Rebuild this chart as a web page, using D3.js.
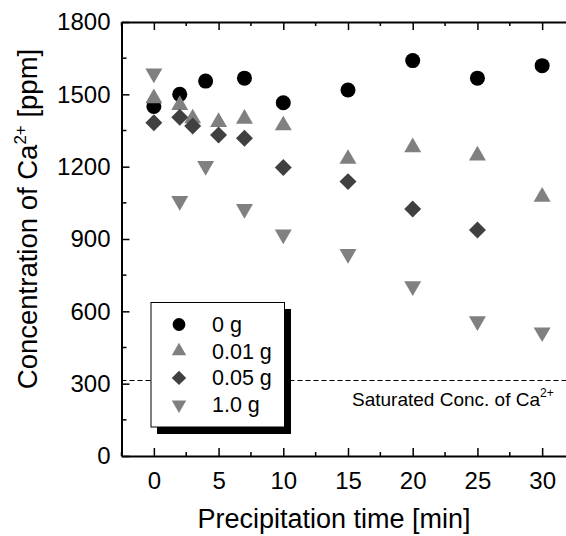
<!DOCTYPE html>
<html><head><meta charset="utf-8">
<script src="https://cdn.jsdelivr.net/npm/d3@7/dist/d3.min.js"></script>
<style>
html,body{margin:0;padding:0;background:#fff;}
text{font-family:"Liberation Sans",Arial,sans-serif;fill:#000;}
</style></head>
<body><svg id="c" width="566" height="536"></svg>
<script>
const seriesNames = ["0 g", "0.01 g", "0.05 g", "1.0 g"];
const seriesColors = ["#000000", "#808080", "#404040", "#808080"];
const seriesShapes = ["circle", "triUp", "diamond", "triDown"];
const t0g = [0, 2, 4, 7, 10, 15, 20, 25, 30];
const v0g = [1450, 1500, 1555, 1567, 1465, 1518, 1640, 1567, 1619];
const t001g = [0, 2, 3, 5, 7, 10, 15, 20, 25, 30];
const v001g = [1483, 1455, 1400, 1385, 1398, 1371, 1232, 1280, 1246, 1075];
const t005g = [0, 2, 3, 5, 7, 10, 15, 20, 25];
const v005g = [1382, 1405, 1369, 1331, 1318, 1197, 1138, 1024, 937];
const t10g = [0, 2, 4, 7, 10, 15, 20, 25, 30];
const v10g = [1587, 1058, 1203, 1025, 919, 838, 704, 559, 513];
const xTicks = [0, 5, 10, 15, 20, 25, 30];
const yTicks = [0, 300, 600, 900, 1200, 1500, 1800];
const saturatedConc = 317;

const svg = d3.select("#c");
const x = d3.scaleLinear().domain([-2.5, 32.5]).range([121.5, 574.5]);
const y = d3.scaleLinear().domain([0, 1800]).range([456, 22]);

const series = [
  {t: t0g, v: v0g}, {t: t001g, v: v001g}, {t: t005g, v: v005g}, {t: t10g, v: v10g}
];

function symPath(shape, k) {
  k = k || 1;
  if (shape === "circle") return {d: d3.symbol(d3.symbolCircle, 177 * k * k)(), rot: 0};
  if (shape === "triUp") return {d: d3.symbol(d3.symbolTriangle, 125 * k * k)(), rot: 0};
  if (shape === "triDown") return {d: d3.symbol(d3.symbolTriangle, 125 * k * k)(), rot: 180};
  return {d: d3.symbol(d3.symbolSquare, 144 * k * k)(), rot: 45};
}

// dashed saturation line
const ySat = Math.round(y(saturatedConc)) + 0.5;
svg.append("line").attr("x1", x(-2.5)).attr("x2", x(32.5))
  .attr("y1", ySat).attr("y2", ySat)
  .attr("stroke", "#000").attr("stroke-width", 1).attr("stroke-dasharray", "5,3");

// data markers
series.forEach((s, i) => {
  const sp = symPath(seriesShapes[i]);
  svg.append("g").selectAll("path").data(s.t.map((tt, j) => [tt, s.v[j]])).join("path")
    .attr("d", sp.d)
    .attr("transform", d => `translate(${x(d[0])},${y(d[1])}) rotate(${sp.rot})`)
    .attr("fill", seriesColors[i]);
});

// axes
const fmt = d3.format("d");
const tickMinorX = d3.range(-2.5, 32.6, 2.5).filter(v => !xTicks.includes(v));
const tickMinorY = d3.range(150, 1800, 300);
const ax = svg.append("g");
const gBottom = ax.append("g").attr("transform", `translate(0,${y(0)})`)
  .call(d3.axisBottom(x).tickValues(xTicks).tickFormat(fmt).tickSizeInner(-8).tickSizeOuter(0).tickPadding(16));
const gTop = ax.append("g").attr("transform", `translate(0,${y(1800)})`)
  .call(d3.axisTop(x).tickValues(xTicks).tickSizeInner(-8).tickSizeOuter(0).tickFormat(""));
const gLeft = ax.append("g").attr("transform", `translate(${x(-2.5)},0)`)
  .call(d3.axisLeft(y).tickValues(yTicks).tickFormat(fmt).tickSizeInner(-8).tickSizeOuter(0).tickPadding(11));
const gRight = ax.append("g").attr("transform", `translate(${x(32.5)},0)`)
  .call(d3.axisRight(y).tickValues(yTicks).tickSizeInner(-8).tickSizeOuter(0).tickFormat(""));
[gBottom, gTop, gLeft, gRight].forEach(g => {
  g.select(".domain").attr("stroke-width", 2);
  g.selectAll(".tick line").attr("stroke-width", 1.5);
  g.selectAll("text").style("font-size", "24px").attr("font-family", null);
});
gBottom.selectAll("text").attr("dy", "0.71em");
// minor ticks
gBottom.selectAll(".mt").data(tickMinorX).join("line").attr("class", "mt")
  .attr("x1", d => x(d)).attr("x2", d => x(d)).attr("y1", 0).attr("y2", -4)
  .attr("stroke", "#000").attr("stroke-width", 1.5);
gTop.selectAll(".mt").data(tickMinorX).join("line").attr("class", "mt")
  .attr("x1", d => x(d)).attr("x2", d => x(d)).attr("y1", 0).attr("y2", 4)
  .attr("stroke", "#000").attr("stroke-width", 1.5);
gLeft.selectAll(".mt").data(tickMinorY).join("line").attr("class", "mt")
  .attr("y1", d => y(d)).attr("y2", d => y(d)).attr("x1", 0).attr("x2", 5)
  .attr("stroke", "#000").attr("stroke-width", 1.5);
gRight.selectAll(".mt").data(tickMinorY).join("line").attr("class", "mt")
  .attr("y1", d => y(d)).attr("y2", d => y(d)).attr("x1", 0).attr("x2", -5)
  .attr("stroke", "#000").attr("stroke-width", 1.5);

// axis titles
svg.append("text").attr("x", 334).attr("y", 528).attr("text-anchor", "middle")
  .style("font-size", "27px").text("Precipitation time [min]");
const yt = svg.append("text").attr("transform", "translate(37,219) rotate(-90)")
  .attr("text-anchor", "middle").style("font-size", "27.5px");
yt.append("tspan").text("Concentration of Ca");
yt.append("tspan").attr("dy", -11).style("font-size", "17px").text("2+");
yt.append("tspan").attr("dy", 11).text(" [ppm]");

// annotation
const an = svg.append("text").attr("x", 352).attr("y", 406).style("font-size", "19px");
an.append("tspan").text("Saturated Conc. of Ca");
an.append("tspan").attr("dy", -9).style("font-size", "12px").text("2+");

// legend
const lg = svg.append("g");
lg.append("rect").attr("x", 157).attr("y", 309).attr("width", 134).attr("height", 125).attr("fill", "#000");
lg.append("rect").attr("x", 151).attr("y", 302.5).attr("width", 133.5).attr("height", 124.5)
  .attr("fill", "#fff").attr("stroke", "#000").attr("stroke-width", 1);
seriesNames.forEach((nm, i) => {
  const cy = 324.5 + i * 26.7;
  const sp = symPath(seriesShapes[i], 0.85);
  lg.append("path").attr("d", sp.d).attr("transform", `translate(179,${cy}) rotate(${sp.rot})`)
    .attr("fill", seriesColors[i]);
  lg.append("text").attr("x", 212).attr("y", cy + 7.5).style("font-size", "21.5px").text(nm);
});
</script></body></html>
